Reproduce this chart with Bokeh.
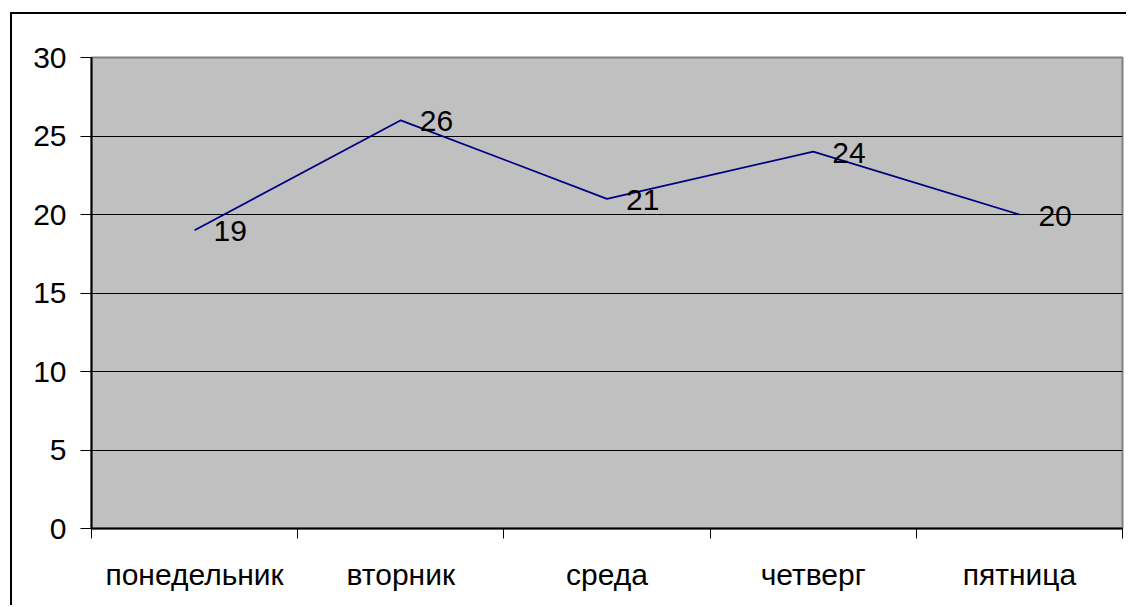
from bokeh.plotting import figure
from bokeh.models import Range1d, FixedTicker, ColumnDataSource
from bokeh.core.properties import value
from bokeh.embed import file_html
from bokeh.resources import INLINE

categories = ["понедельник", "вторник", "среда", "четверг", "пятница"]
values = [19, 26, 21, 24, 20]
y_ticks = [0, 5, 10, 15, 20, 25, 30]

FONT = "Liberation Sans"
FS = "30px"

xs = [i + 0.5 for i in range(len(categories))]
src = ColumnDataSource(dict(x=xs, y=values, lab=[str(v) for v in values]))

p = figure(width=1126, height=605, output_backend="svg", toolbar_location=None,
           x_range=Range1d(0, len(categories)), y_range=Range1d(y_ticks[0], y_ticks[-1]),
           min_border_left=91, min_border_right=4, min_border_top=57, min_border_bottom=77)
p.background_fill_color = "#C0C0C0"
p.border_fill_color = None
p.styles = {
    "background": "linear-gradient(black, black) 10px 12px / 2px 100% no-repeat, "
                  "linear-gradient(black, black) 10px 12px / 100% 2px no-repeat, white"
}
p.outline_line_color = "#808080"
p.outline_line_width = 2

# x axis
p.xaxis.ticker = FixedTicker(ticks=xs, minor_ticks=list(range(len(categories) + 1)))
p.xaxis.major_label_overrides = {x: c for x, c in zip(xs, categories)}
p.xaxis.major_tick_out = 0
p.xaxis.major_tick_in = 0
p.xaxis.minor_tick_out = 10
p.xaxis.minor_tick_in = 0
p.xaxis.minor_tick_line_color = "black"
p.xaxis.minor_tick_line_width = 1
p.xaxis.axis_line_color = "black"
p.xaxis.axis_line_width = 2
p.xaxis.major_label_standoff = 19
p.xaxis.major_label_text_font = FONT
p.xaxis.major_label_text_font_size = FS
p.xaxis.major_label_text_color = "black"

# y axis
p.yaxis.ticker = FixedTicker(ticks=y_ticks, minor_ticks=[])
p.yaxis.major_tick_out = 11
p.yaxis.major_tick_in = 0
p.yaxis.major_tick_line_color = "black"
p.yaxis.axis_line_color = "black"
p.yaxis.axis_line_width = 2
p.yaxis.major_label_standoff = 14
p.yaxis.major_label_text_font = FONT
p.yaxis.major_label_text_font_size = FS
p.yaxis.major_label_text_color = "black"

p.xgrid.grid_line_color = None
p.ygrid.ticker = FixedTicker(ticks=y_ticks)
p.ygrid.grid_line_color = "black"
p.ygrid.grid_line_width = 1

p.line("x", "y", source=src, line_color="#000080", line_width=1.8)
p.text("x", "y", text="lab", source=src, x_offset=19, y_offset=1,
       text_font=value(FONT), text_font_size=FS, text_color="black",
       text_align="left", text_baseline="middle")

open("out.html", "w").write(file_html(p, INLINE))
